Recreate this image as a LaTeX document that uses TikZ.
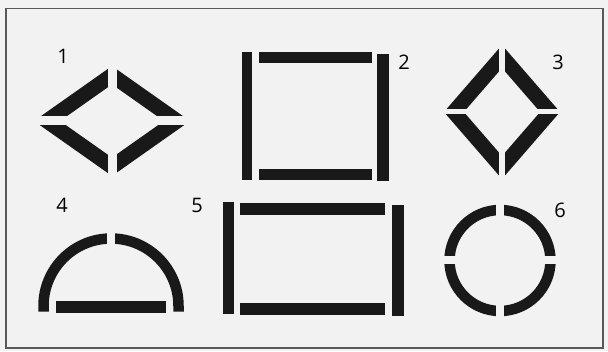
\documentclass[tikz,border=0pt]{standalone}
\usepackage{fontspec}
\setmainfont{Open Sans}
\usetikzlibrary{calc}
\definecolor{ink}{gray}{0.1}
\definecolor{paper}{gray}{0.95}
\definecolor{frame}{gray}{0.35}
\begin{document}
\begin{tikzpicture}[x=1pt,y=1pt,line join=miter,
  diag/.style={draw=ink,line width=15pt},
  bar/.style={fill=ink},
  ring/.style={draw=ink,line width=10.5pt},
  gap/.style={draw=paper,line width=#1},
  num/.style={font=\fontsize{20}{20}\selectfont,inner sep=0pt}]
  \useasboundingbox (0,0) rectangle (608,351);
  \fill[paper] (0,0) rectangle (608,351);
  \draw[frame,line width=1.5pt] (6,3) rectangle (603,342.5);

  \coordinate (C1) at (112,230);
  \coordinate (C3) at (502,239);
  \coordinate (C4) at (111,45);
  \coordinate (C6) at (500,90.5);

  % 1: Raute, breit
  \draw[diag] (47,230) -- (112,275.8) -- (177,230) -- (112,184.2) -- cycle;
  \draw[gap=9pt] ($(C1)+(0,62)$) -- ($(C1)+(0,-62)$);
  \draw[gap=9pt] ($(C1)+(-88,0)$) -- ($(C1)+(88,0)$);

  % 2: Quadrat
  \fill[bar] (241.5,170.5) rectangle (252,298.5);
  \fill[bar] (377,169.5) rectangle (388.5,297);
  \fill[bar] (259,287.5) rectangle (372,298.5);
  \fill[bar] (259,171) rectangle (372,182);

  % 3: Raute, hoch
  \draw[diag] (453.9,239) -- (502,294.5) -- (550.1,239) -- (502,183.5) -- cycle;
  \draw[gap=6pt] ($(C3)+(0,72)$) -- ($(C3)+(0,-72)$);
  \draw[gap=5pt] ($(C3)+(-66,0)$) -- ($(C3)+(66,0)$);

  % 4: Halbkreis
  \draw[ring] (43.5,39.3) -- (43.5,45) arc[start angle=180,end angle=0,radius=67.5] -- (178.5,39.3);
  \draw[gap=8pt] ($(C4)+(0,55)$) -- ($(C4)+(0,80)$);
  \fill[bar] (56,38.3) rectangle (166,50);

  % 5: Rechteck
  \fill[bar] (222.5,37) rectangle (234,148.5);
  \fill[bar] (391.5,35) rectangle (403.5,146);
  \fill[bar] (239.5,136) rectangle (385,148);
  \fill[bar] (239.5,36) rectangle (385,47.5);

  % 6: Kreis
  \draw[ring] (C6) circle[radius=50.5];
  \draw[gap=8pt] ($(C6)+(0,62)$) -- ($(C6)+(0,-62)$);
  \draw[gap=8pt] ($(C6)+(-62,0)$) -- ($(C6)+(62,0)$);

  % Nummern
  \node[num] (n1) at (63,294.5) {1};
  \node[num] (n2) at (404,289) {2};
  \node[num] (n3) at (558,289) {3};
  \node[num] (n4) at (62,146) {4};
  \node[num] (n5) at (197,146) {5};
  \node[num] (n6) at (560,141) {6};
\end{tikzpicture}
\end{document}
